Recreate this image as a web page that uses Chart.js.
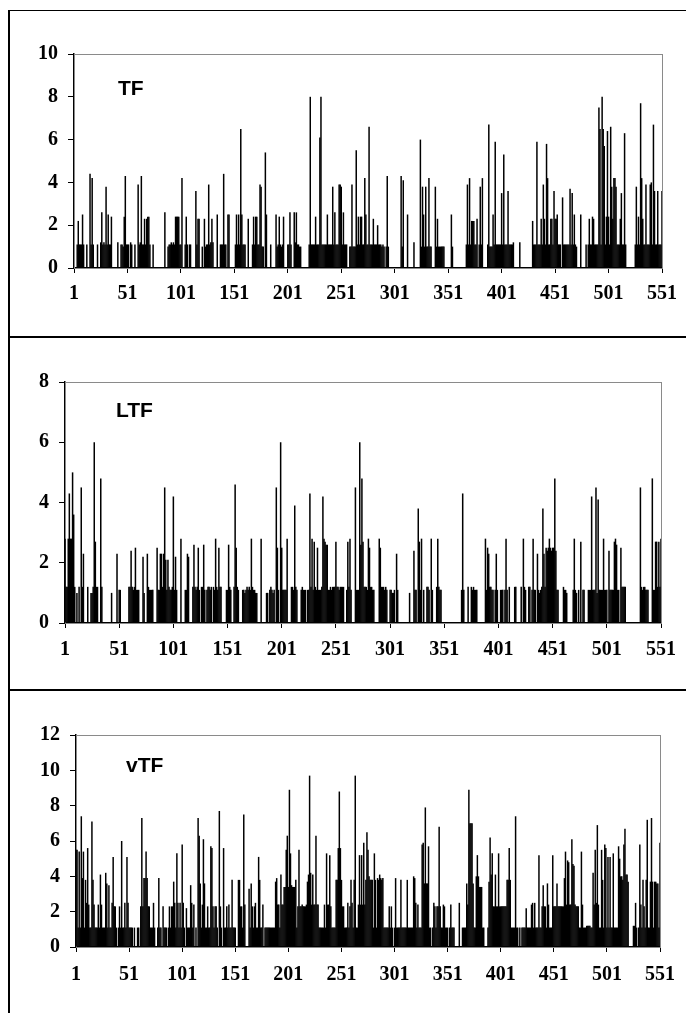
<!DOCTYPE html>
<html>
<head>
<meta charset="utf-8">
<script src="https://cdn.jsdelivr.net/npm/chart.js@4.4.1/dist/chart.umd.min.js"></script>
<style>
  body { margin: 0; background: #fff; width: 686px; height: 1013px; overflow: hidden; position: relative; }
  canvas { position: absolute; left: 0; }
  .line { position: absolute; background: #000; }
  .tag { position: absolute; font: bold 21px "Liberation Sans", Arial, sans-serif; line-height: 21px; color: #000; }
</style>
</head>
<body>
<!-- cadres des trois panneaux -->
<div class="line" style="left:8px;top:10px;width:678px;height:1px"></div>
<div class="line" style="left:8px;top:10px;width:2px;height:1003px"></div>
<div class="line" style="left:8px;top:336px;width:678px;height:2px"></div>
<div class="line" style="left:8px;top:689px;width:678px;height:2px"></div>

<canvas id="chartTF" width="686" height="337" style="top:0px"></canvas>
<canvas id="chartLTF" width="686" height="353" style="top:337px"></canvas>
<canvas id="chartVTF" width="686" height="323" style="top:690px"></canvas>

<div class="tag" style="left:118px;top:77px">TF</div>
<div class="tag" style="left:116px;top:399px">LTF</div>
<div class="tag" style="left:126px;top:754px">vTF</div>

<script>
// numéros des cas (axe x) et graduations affichées
const caseNumbers = Array.from({ length: 551 }, (_, i) => String(i + 1));
const xTickLabels = ['1', '51', '101', '151', '201', '251', '301', '351', '401', '451', '501', '551'];

// TF
const tfValues = [
  0,0,0,1.1,2.2,1.1,1.1,1.1,2.5,1.1,
  0,0,1.1,0,0,4.4,1.1,4.2,1.1,0,
  0,0,1.1,0,0,1.2,2.6,1.1,1.2,1.1,
  3.8,1.1,2.5,1.1,1.1,2.4,0,0,0,0,
  0,1.2,0,0,1.1,1.1,1.0,2.4,4.3,1.1,
  1.1,1.1,0,1.2,1.1,0,0,1.1,0,0,
  3.9,1.1,1.2,4.3,1.1,1.1,2.3,1.1,2.3,2.4,
  2.4,1.1,0,0,1.1,0,0,0,0,0,
  0,0,0,0,0,2.6,0,0,1.0,1.1,
  1.1,1.2,1.1,1.2,1.1,2.4,2.4,2.4,2.4,1.1,
  1.1,4.2,0,0,1.1,2.4,1.1,0,1.1,1.1,
  0,0,0,0,3.6,1.1,2.3,2.3,0,0,
  1.0,0,2.3,1.0,1.1,1.1,3.9,1.1,1.2,2.3,
  1.2,0,0,0,2.5,0,0,1.1,1.1,1.1,
  4.4,1.1,1.1,0,2.5,2.5,0,0,0,0,
  0,1.1,2.5,1.1,2.5,1.1,6.5,2.5,1.1,1.1,
  1.1,0,0,2.3,0,0,0,1.1,2.4,1.1,
  2.4,2.4,1.1,1.1,3.9,3.8,1.0,1.0,0,5.4,
  2.5,0,0,0,1.1,0,0,0,0,2.5,
  1.0,1.1,2.4,1.1,1.0,1.1,2.4,0,0,0,
  1.1,1.1,2.6,1.1,0,0,2.6,1.2,2.6,1.1,
  1.1,1.0,1.0,0,0,0,0,0,0,0,
  1.1,8.0,1.1,1.1,1.1,1.1,2.4,1.1,1.1,1.1,
  6.1,8.0,1.1,1.1,1.1,1.1,1.1,2.5,1.1,1.1,
  1.1,1.1,3.8,1.1,2.6,1.1,1.1,1.1,3.9,3.9,
  3.8,1.1,2.6,1.1,1.1,1.1,0,0,1.0,1.0,
  3.9,1.0,1.0,1.0,5.5,1.1,2.4,1.1,2.4,2.4,
  1.1,1.1,4.2,2.5,1.1,1.1,6.6,1.1,1.1,1.1,
  2.3,1.1,1.1,1.1,2.0,1.1,1.1,1.1,1.0,1.1,
  1.0,0,1.0,4.3,1.0,0,0,0,0,0,
  0,0,0,0,0,0,4.3,1.0,4.1,0,
  0,0,2.5,0,0,0,0,0,1.2,0,
  0,0,0,0,6.0,1.0,3.8,2.5,1.0,3.8,
  1.0,1.0,4.2,1.0,1.0,0,0,0,3.8,1.0,
  2.3,1.0,1.0,1.0,1.0,1.0,1.0,0,0,0,
  0,0,0,2.5,1.0,0,0,0,0,0,
  0,0,0,0,0,0,0,1.1,3.9,1.1,
  4.2,1.1,2.2,2.2,2.2,1.1,1.1,2.3,0,1.1,
  3.8,1.1,4.2,0,0,0,0,1.1,6.7,1.0,
  1.0,1.0,2.5,1.1,5.9,1.1,1.1,1.1,1.1,1.1,
  3.5,1.1,5.3,1.1,1.1,1.1,3.6,1.1,1.1,1.1,
  1.1,1.2,0,0,0,0,0,1.2,0,0,
  0,0,0,0,0,0,0,0,0,2.2,
  1.1,1.1,1.1,5.9,1.1,1.1,1.1,2.3,1.1,3.9,
  2.3,1.1,5.8,4.2,1.1,1.1,2.3,2.3,1.1,3.6,
  2.3,2.3,2.5,1.1,1.1,1.1,0,3.3,1.1,1.1,
  1.1,1.1,1.1,1.1,3.7,1.1,3.5,1.1,2.5,1.1,
  1.0,0,0,0,2.5,0,0,0,0,1.1,
  0,1.1,2.3,1.1,1.1,2.4,2.3,1.1,1.1,1.1,
  1.1,7.5,6.5,1.1,8.0,6.5,5.7,1.1,2.4,6.4,
  2.4,1.1,6.6,3.8,2.3,4.2,4.2,3.8,1.1,1.1,
  1.1,2.3,3.5,1.1,1.1,6.3,1.1,0,0,0,
  0,0,0,0,0,1.1,3.8,1.1,2.4,1.1,
  7.7,4.2,2.3,1.1,1.1,3.9,1.1,1.1,1.1,3.9,
  4.0,1.1,6.7,3.6,1.1,1.1,3.6,1.1,1.1,1.1,
  3.6
];

// LTF
const ltfValues = [
  2.8,1.2,1.2,2.8,4.3,2.8,2.8,5.0,3.6,1.2,
  0,1.0,0,1.2,0,4.5,1.2,2.3,0,0,
  0,1.2,0,0,1.0,1.0,1.2,6.0,2.7,1.2,
  1.2,0,0,4.8,1.2,0,0,0,0,0,
  0,0,0,1.0,0,0,0,0,2.3,0,
  1.1,1.1,0,0,0,0,0,0,0,1.2,
  1.2,2.4,1.2,1.1,1.2,2.5,1.1,1.1,1.1,0,
  0,0,2.2,1.0,0,0,2.3,1.2,1.1,1.1,
  1.1,1.1,0,0,0,2.5,1.1,1.1,2.3,2.3,
  1.2,2.3,4.5,2.1,1.1,2.1,1.2,1.1,1.1,1.2,
  4.2,1.1,2.2,1.1,0,0,0,2.8,0,0,
  0,1.1,1.1,2.3,2.2,0,0,0,1.2,2.6,
  1.2,1.1,1.2,2.5,1.1,0,1.2,1.2,2.6,1.1,
  0,1.1,1.2,1.2,1.1,1.2,0,1.2,1.1,2.8,
  1.2,1.1,2.5,1.2,1.2,0,0,0,0,1.1,
  1.1,2.6,1.2,1.1,0,0,1.2,4.6,2.5,1.2,
  1.1,0,0,0,1.1,1.1,1.0,1.1,1.2,1.1,
  1.2,1.1,2.8,1.2,1.1,1.1,1.0,1.0,0,0,
  0,2.8,0,0,0,0,1.0,1.0,0,1.1,
  1.2,1.1,1.0,1.1,0,4.5,2.5,1.1,0,6.0,
  2.5,1.1,1.1,1.1,1.1,2.8,0,0,0,1.2,
  1.2,1.1,3.9,1.2,1.1,0,0,0,1.1,1.2,
  1.1,1.1,1.1,0,1.1,1.1,4.3,1.2,2.8,1.1,
  2.7,1.2,1.1,2.5,1.1,1.1,1.1,1.2,4.2,2.8,
  2.7,2.6,2.6,1.1,1.1,1.2,1.1,1.2,1.2,1.2,
  2.7,1.2,1.2,1.1,1.2,1.2,1.2,1.2,0,0,
  1.1,2.7,1.2,2.8,1.1,0,0,0,4.5,1.1,
  1.1,1.1,6.0,2.6,4.8,2.7,1.2,1.2,1.2,1.1,
  2.8,2.5,1.2,1.2,1.1,1.1,0,0,0,0,
  2.8,2.5,1.2,1.2,1.2,1.1,1.2,1.1,0,0,
  1.1,1.1,1.0,1.0,1.1,0,2.3,1.1,0,0,
  0,0,0,0,0,0,0,0,1.0,0,
  0,0,2.4,1.1,1.1,0,3.8,2.7,1.1,2.8,
  0,1.1,0,0,1.2,1.2,1.1,0,2.8,1.1,
  0,0,0,1.2,2.8,1.2,1.1,1.1,0,0,
  0,0,0,0,0,0,0,0,0,0,
  0,0,0,0,0,0,1.1,4.3,1.1,0,
  0,0,1.2,0,0,1.2,1.1,1.2,1.1,1.1,
  1.1,0,0,0,0,0,0,0,2.8,1.1,
  2.5,2.3,1.2,1.2,1.1,1.1,0,1.1,2.3,1.1,
  0,0,1.1,1.1,1.1,0,1.1,2.8,1.1,0,
  1.2,0,0,0,0,1.2,1.2,0,0,0,
  0,1.2,0,2.8,1.2,1.1,0,0,1.2,1.2,
  0,1.1,2.8,1.1,1.1,0,2.3,1.1,1.0,1.1,
  1.2,3.8,2.3,1.2,2.5,2.4,2.5,2.8,2.5,2.4,
  2.5,2.5,4.8,2.4,1.1,1.1,0,0,0,0,
  1.2,1.1,1.1,1.0,0,0,0,0,0,1.1,
  2.8,1.1,1.0,0,1.1,0,2.7,0,1.1,1.1,
  0,0,0,1.1,1.1,1.1,4.2,1.1,1.1,1.1,
  4.5,1.0,4.1,1.1,1.1,1.1,1.1,2.8,1.1,1.1,
  1.1,0,2.4,1.1,1.1,1.1,1.1,2.7,2.8,2.6,
  1.1,1.1,0,2.5,1.2,1.2,1.2,1.2,0,0,
  0,0,0,0,0,0,0,0,0,0,
  0,4.5,1.2,1.1,1.2,1.2,1.1,1.1,1.1,0,
  0,0,4.8,1.1,1.1,2.7,2.7,1.2,2.7,1.2,
  2.8
];

// vTF
const vtfValues = [
  5.5,5.5,1.1,5.4,1.1,7.4,3.9,5.4,1.1,3.8,
  2.5,5.6,2.4,1.1,1.1,7.1,3.8,2.4,1.1,1.1,
  1.1,2.4,1.1,4.1,2.4,1.1,1.1,1.1,4.2,3.6,
  1.1,3.5,1.1,1.1,2.5,5.1,2.3,2.3,1.1,0,
  1.1,2.3,1.1,6.0,1.1,1.1,2.5,1.1,5.1,2.5,
  1.1,1.1,1.1,1.1,0,1.1,0,0,1.1,1.1,
  0,2.3,7.3,2.3,3.9,3.9,5.4,3.9,2.3,2.3,
  1.1,1.1,1.1,2.5,1.1,0,0,1.1,3.9,1.1,
  1.1,0,2.3,1.1,1.1,1.1,0,1.1,2.3,1.1,
  2.3,2.3,3.7,2.5,1.1,5.3,2.5,1.1,2.5,1.1,
  5.8,2.5,1.1,0,2.2,1.1,1.1,1.1,3.5,2.5,
  1.1,2.4,0,1.1,0,7.3,6.3,3.6,1.1,2.4,
  6.1,3.6,1.1,1.1,2.3,1.1,1.1,5.7,5.6,2.3,
  1.1,2.3,2.3,1.1,0,7.7,2.3,1.1,0,5.6,
  1.1,1.1,2.3,1.1,2.4,1.1,1.1,3.8,1.1,1.1,
  1.1,0,0,3.8,3.8,2.3,2.3,1.1,7.5,2.4,
  0,0,0,3.3,1.1,3.6,2.3,1.1,2.3,2.5,
  1.1,1.1,5.1,3.8,1.1,1.1,2.4,0,1.1,1.1,
  1.1,1.1,1.1,1.1,1.1,1.1,1.1,1.1,3.7,3.9,
  2.4,2.4,1.1,4.1,2.4,2.4,3.4,3.4,5.5,6.3,
  3.4,8.9,5.3,3.5,3.4,3.4,3.4,3.8,1.1,2.3,
  5.5,2.3,2.3,2.4,2.3,2.3,2.3,2.4,3.7,4.1,
  9.7,4.2,2.4,4.1,2.4,2.4,6.3,2.4,2.4,1.1,
  1.1,1.1,1.1,1.1,2.4,1.1,5.3,2.4,2.4,5.2,
  2.3,1.1,1.1,1.1,1.1,3.8,3.8,5.6,8.8,5.6,
  3.8,2.3,2.3,1.1,1.1,1.1,2.5,1.1,2.3,3.8,
  2.5,1.1,3.8,9.7,1.1,1.1,2.4,5.2,2.4,5.2,
  2.4,5.9,2.4,3.8,6.5,5.5,4.0,3.8,3.8,3.8,
  1.1,5.3,3.8,1.1,3.9,3.8,4.1,3.9,3.8,3.9,
  1.1,1.1,1.1,1.1,1.1,2.3,1.1,2.3,1.1,0,
  1.1,3.9,1.1,1.1,1.1,1.1,3.8,1.1,1.1,1.1,
  1.1,1.1,3.8,1.1,1.1,1.1,1.1,1.1,4.0,3.9,
  2.5,1.1,2.4,1.1,1.1,1.1,5.8,5.9,3.6,7.9,
  3.6,3.6,5.7,1.1,1.1,0,1.1,2.5,2.3,1.1,
  2.3,2.3,6.8,2.3,1.1,1.1,2.4,2.3,1.1,1.1,
  1.1,0,1.1,2.4,1.1,1.1,1.1,0,0,0,
  0,2.5,0,0,1.1,1.1,1.1,1.1,3.6,2.4,
  8.9,7.0,7.0,7.0,3.6,1.1,1.1,4.0,5.2,4.0,
  3.4,3.4,3.4,1.1,1.1,0,0,0,1.1,3.7,
  6.2,4.1,5.3,2.3,2.3,4.1,2.3,2.3,5.3,2.3,
  2.3,2.3,2.3,2.3,2.3,2.3,3.8,3.8,5.6,3.8,
  1.1,1.1,1.1,1.1,7.4,1.1,1.1,0,1.1,0,
  1.1,1.1,1.1,1.1,2.2,1.1,1.1,1.1,1.1,2.4,
  2.5,1.1,2.5,1.1,1.1,1.1,5.2,1.1,1.1,2.3,
  3.5,2.3,2.3,1.1,3.6,2.4,1.1,1.1,1.1,5.2,
  2.3,2.3,2.3,3.6,2.3,2.3,2.3,2.3,2.3,2.3,
  3.9,5.4,2.4,4.9,4.8,2.4,2.4,6.1,4.7,4.6,
  2.4,2.3,2.3,2.3,1.1,1.1,5.4,2.4,1.1,1.1,
  1.1,1.2,1.2,1.2,1.2,1.1,1.1,4.2,2.4,5.5,
  2.5,6.9,2.4,1.1,1.1,5.5,3.8,1.1,5.8,5.6,
  1.1,5.1,1.1,5.1,1.1,1.1,5.3,1.1,1.1,1.1,
  1.1,5.7,5.0,4.0,4.0,3.8,5.8,6.7,4.1,4.1,
  3.7,0,0,0,0,1.2,1.2,2.5,1.1,0,
  1.1,5.8,2.4,1.1,3.8,2.3,1.1,3.8,7.2,1.1,
  1.1,3.7,7.3,3.7,1.1,3.7,3.7,3.6,3.6,1.1,
  5.9
];

const tickFont = { family: '"Liberation Serif", "Times New Roman", serif', size: 20, weight: 'bold' };

// cadre gris du graphique
const cadre = {
  id: 'cadre',
  beforeDatasetsDraw(chart) {
    const a = chart.chartArea;
    const ctx = chart.ctx;
    ctx.save();
    ctx.strokeStyle = '#8a8a8a';
    ctx.lineWidth = 1;
    ctx.strokeRect(a.left + 0.5, a.top + 0.5, a.right - a.left, a.bottom - a.top);
    ctx.restore();
  }
};

function desenharPainel(id, valores, yMax, pos) {
  new Chart(document.getElementById(id), {
    type: 'bar',
    data: {
      labels: caseNumbers,
      datasets: [{
        data: valores,
        backgroundColor: '#000',
        borderWidth: 0,
        barPercentage: 1.4,
        categoryPercentage: 1
      }]
    },
    options: {
      responsive: false,
      animation: false,
      devicePixelRatio: 1,
      layout: { padding: { top: pos.top, right: pos.right, left: 0, bottom: 0 } },
      plugins: { legend: { display: false }, tooltip: { enabled: false } },
      scales: {
        x: {
          offset: false,
          grid: { offset: false, drawOnChartArea: false, tickLength: 5, color: '#000' },
          border: { color: '#000', width: 1.5 },
          ticks: { autoSkip: false, maxRotation: 0, padding: pos.xPad, color: '#000', font: tickFont },
          afterBuildTicks: s => { s.ticks = s.ticks.filter(t => xTickLabels.includes(caseNumbers[t.value])); },
          afterFit: s => { s.height = pos.xAxis; }
        },
        y: {
          min: 0,
          max: yMax,
          ticks: { stepSize: 2, padding: 10, color: '#000', font: tickFont },
          grid: { drawOnChartArea: false, tickLength: 6, color: '#000' },
          border: { color: '#000', width: 1.5 },
          afterFit: s => { s.width = pos.left; }
        }
      }
    },
    plugins: [cadre]
  });
}

desenharPainel('chartTF', tfValues, 10, { left: 74, top: 54, right: 19, xAxis: 69, xPad: 9 });
desenharPainel('chartLTF', ltfValues, 8, { left: 65, top: 45, right: 19, xAxis: 67, xPad: 10 });
desenharPainel('chartVTF', vtfValues, 12, { left: 76, top: 45, right: 19, xAxis: 66, xPad: 11 });
</script>
</body>
</html>
